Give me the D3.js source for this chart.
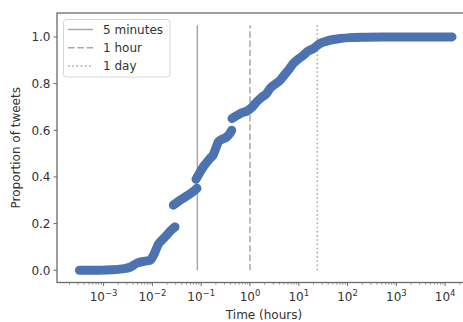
<!DOCTYPE html>
<html>
<head>
<meta charset="utf-8">
<script src="https://cdn.jsdelivr.net/npm/d3@7"></script>
<style>
  html, body { margin: 0; padding: 0; background: #fff; }
  svg { display: block; font-family: "DejaVu Sans", sans-serif; }
</style>
</head>
<body>
<svg id="chart" width="463" height="322"></svg>
<script>
// ---- data ----
// segments separated by visible gaps in the scatter
const seg1Hours = [3.2e-4, 5.26e-4, 8.44e-4, 1.56e-3, 2.38e-3, 3.48e-3, 4.77e-3, 7.05e-3, 8.93e-3, 1.03e-2, 1.13e-2, 1.32e-2, 1.57e-2, 1.96e-2, 2.40e-2, 2.91e-2];
const seg1Prop  = [0, 0, 0, 0.002, 0.006, 0.013, 0.030, 0.039, 0.043, 0.060, 0.078, 0.111, 0.129, 0.150, 0.171, 0.186];
const seg2Hours = [2.68e-2, 3.68e-2, 5.12e-2, 7.46e-2, 8.20e-2];
const seg2Prop  = [0.279, 0.300, 0.319, 0.343, 0.351];
const seg3Hours = [7.82e-2, 9.45e-2, 0.110, 0.131, 0.151, 0.175, 0.192, 0.211, 0.224, 0.267, 0.333, 0.389, 0.422];
const seg3Prop  = [0.390, 0.420, 0.443, 0.463, 0.479, 0.493, 0.514, 0.536, 0.550, 0.561, 0.571, 0.587, 0.600];
const seg4Hours = [0.428, 0.624, 0.923, 1.10, 1.37, 1.76, 2.20, 2.57, 3.25, 4.12, 5.21, 6.10, 7.71, 9.63, 12.4, 15.4, 19.8, 27.2, 36.1, 50.9, 69.9, 112, 227, 540, 1900, 4880, 13800];
const seg4Prop  = [0.650, 0.671, 0.686, 0.699, 0.722, 0.742, 0.758, 0.779, 0.797, 0.814, 0.840, 0.857, 0.886, 0.904, 0.921, 0.939, 0.950, 0.972, 0.981, 0.989, 0.993, 0.997, 0.999, 1.0, 1.0, 1.0, 1.0];

const refLabels = ["5 minutes", "1 hour", "1 day"];
const refHours  = [5 / 60, 1, 24];
const refDash   = [null, "6.5,2.8", "1.6,2.6"];

const yTicks = [0, 0.2, 0.4, 0.6, 0.8, 1.0];
const xTickExps = [-3, -2, -1, 0, 1, 2, 3, 4];

(function () {
// ---- layout ----
const svg = d3.select("#chart");
const mLeft = 57, mRight = 471, mTop = 13, mBottom = 282.5;

const x = d3.scaleLog().domain([Math.pow(10, -3.955), Math.pow(10, 4.529)]).range([mLeft, mRight]);
const y = d3.scaleLinear().domain([-0.0525, 1.1025]).range([mBottom, mTop]);

const blue = "#4C72B0";
const axisCol = "#6a6a6a";
const textCol = "#333";

// reference vertical lines (drawn beneath the data)
svg.append("g").selectAll("line").data(refHours).join("line")
  .attr("x1", d => x(d)).attr("x2", d => x(d))
  .attr("y1", y(0)).attr("y2", y(1.05))
  .attr("stroke", "#a8a8a8").attr("stroke-width", 1.5)
  .attr("stroke-dasharray", (d, i) => refDash[i]);

// data: dense scatter drawn as thick overlapping markers
const segs = [
  [seg1Hours, seg1Prop], [seg2Hours, seg2Prop], [seg3Hours, seg3Prop], [seg4Hours, seg4Prop]
].map(([h, p]) => h.map((v, i) => [v, p[i]]));

const line = d3.line().x(d => x(d[0])).y(d => y(d[1])).curve(d3.curveMonotoneX);
svg.append("g").selectAll("path").data(segs).join("path")
  .attr("d", line)
  .attr("fill", "none").attr("stroke", blue).attr("stroke-width", 9)
  .attr("stroke-linecap", "round").attr("stroke-linejoin", "round");

// spines
svg.append("rect").attr("x", mLeft).attr("y", mTop).attr("width", mRight - mLeft).attr("height", mBottom - mTop)
  .attr("stroke", axisCol).attr("stroke-width", 1.3).attr("fill", "none");

// y axis ticks
const yg = svg.append("g");
yg.selectAll("line").data(yTicks).join("line")
  .attr("x1", mLeft - 3.5).attr("x2", mLeft).attr("y1", d => y(d)).attr("y2", d => y(d))
  .attr("stroke", axisCol).attr("stroke-width", 1);
yg.selectAll("text").data(yTicks).join("text")
  .attr("x", mLeft - 6.5).attr("y", d => y(d)).attr("dy", "0.36em")
  .attr("text-anchor", "end").attr("font-size", 12).attr("fill", textCol)
  .text(d => d.toFixed(1));

// x axis ticks (major + minor)
const xg = svg.append("g");
const minor = [];
for (let e = -4; e <= 4; e++) for (let k = 2; k <= 9; k++) {
  const v = k * Math.pow(10, e);
  if (x(v) >= mLeft && x(v) <= mRight) minor.push(v);
}
xg.selectAll("line.minor").data(minor).join("line").attr("class", "minor")
  .attr("x1", d => x(d)).attr("x2", d => x(d)).attr("y1", mBottom).attr("y2", mBottom + 2)
  .attr("stroke", axisCol).attr("stroke-width", 0.8);
xg.selectAll("line.major").data(xTickExps).join("line").attr("class", "major")
  .attr("x1", d => x(Math.pow(10, d))).attr("x2", d => x(Math.pow(10, d)))
  .attr("y1", mBottom).attr("y2", mBottom + 3.5)
  .attr("stroke", axisCol).attr("stroke-width", 1);
const xt = xg.selectAll("text").data(xTickExps).join("text")
  .attr("x", d => x(Math.pow(10, d))).attr("y", 301)
  .attr("text-anchor", "middle").attr("font-size", 12).attr("fill", textCol);
xt.append("tspan").text("10");
xt.append("tspan").attr("dy", -5).attr("font-size", 8.5)
  .text(d => (d < 0 ? "\u2212" + Math.abs(d) : String(d)));

// axis labels
svg.append("text").attr("x", (mLeft + mRight) / 2).attr("y", 319)
  .attr("text-anchor", "middle").attr("font-size", 12).attr("fill", textCol)
  .text("Time (hours)");
svg.append("text").attr("transform", `translate(20,${(mTop + mBottom) / 2}) rotate(-90)`)
  .attr("text-anchor", "middle").attr("font-size", 12).attr("fill", textCol)
  .text("Proportion of tweets");

// legend
const lg = svg.append("g");
lg.append("rect").attr("x", 63.5).attr("y", 19.5).attr("width", 106.5).attr("height", 57.5)
  .attr("rx", 3).attr("fill", "#fff").attr("fill-opacity", 0.8)
  .attr("stroke", "#d6d6d6").attr("stroke-width", 1);
const rows = lg.selectAll("g").data(refLabels).join("g")
  .attr("transform", (d, i) => `translate(0,${29.5 + i * 18.2})`);
rows.append("line").attr("x1", 68).attr("x2", 93).attr("y1", 0).attr("y2", 0)
  .attr("stroke", "#a8a8a8").attr("stroke-width", 1.5)
  .attr("stroke-dasharray", (d, i) => refDash[i]);
rows.append("text").attr("x", 103).attr("y", 0).attr("dy", "0.36em")
  .attr("font-size", 12).attr("fill", textCol).text(d => d);
})();
</script>
</body>
</html>
